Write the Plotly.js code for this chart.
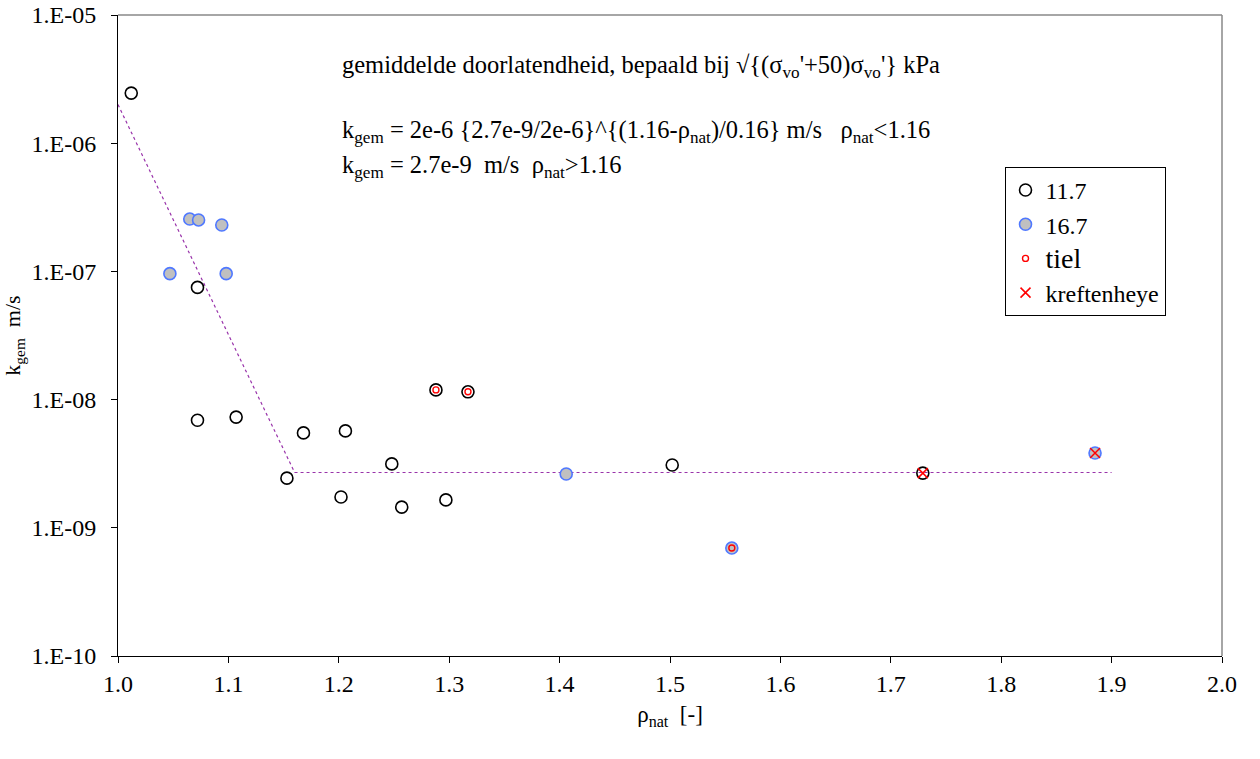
<!DOCTYPE html>
<html>
<head>
<meta charset="utf-8">
<script src="https://cdn.plot.ly/plotly-3.0.1.min.js"></script>
<style>body{margin:0;background:#fff}#chart{width:1260px;height:759px}</style>
</head>
<body>
<div id="chart"></div>
<script>
// series 11.7
const x117 = [1.012, 1.072, 1.072, 1.107, 1.153, 1.168, 1.206, 1.202, 1.248, 1.257, 1.297, 1.288, 1.317, 1.502, 1.729];
const y117 = [2.46e-6, 7.5e-8, 6.9e-9, 7.3e-9, 2.44e-9, 5.5e-9, 5.7e-9, 1.74e-9, 3.15e-9, 1.45e-9, 1.65e-9, 1.19e-8, 1.15e-8, 3.09e-9, 2.67e-9];
// series 16.7
const x167 = [1.047, 1.065, 1.073, 1.094, 1.098, 1.406, 1.556, 1.885];
const y167 = [9.6e-8, 2.56e-7, 2.52e-7, 2.30e-7, 9.6e-8, 2.63e-9, 6.95e-10, 3.83e-9];
// tiel
const xTiel = [1.288, 1.317, 1.556];
const yTiel = [1.19e-8, 1.15e-8, 6.95e-10];
// kreftenheye
const xKref = [1.729, 1.885];
const yKref = [2.67e-9, 3.83e-9];
// fit line
const xFit = [1.0, 1.16, 1.9];
const yFit = [2e-6, 2.7e-9, 2.7e-9];
// axis ticks
const yTickVals = [1e-10, 1e-9, 1e-8, 1e-7, 1e-6, 1e-5];
const yTickText = ['1.E-10', '1.E-09', '1.E-08', '1.E-07', '1.E-06', '1.E-05'];

const FONT = 'Liberation Serif';

const traces = [
  {x: xFit, y: yFit, mode: 'lines', line: {color: '#9933aa', width: 1.2, dash: '3px,3px'}, showlegend: false, hoverinfo: 'skip'},
  {x: x117, y: y117, mode: 'markers', name: '11.7',
   marker: {symbol: 'circle-open', size: 12, color: '#000', line: {color: '#000', width: 1.6}}},
  {x: x167, y: y167, mode: 'markers', name: '16.7',
   marker: {symbol: 'circle', size: 12, color: '#c0c0c0', line: {color: '#4f78ff', width: 1.6}}},
  {x: xTiel, y: yTiel, mode: 'markers', name: '<span style="font-size:28px">tiel</span>',
   marker: {symbol: 'circle-open', size: 6, color: '#ff0000', line: {color: '#ff0000', width: 1.4}}},
  {x: xKref, y: yKref, mode: 'markers', name: 'kreftenheye',
   marker: {symbol: 'x-thin-open', size: 10, color: '#ff0000', line: {color: '#ff0000', width: 1.5}}}
];

const layout = {
  width: 1260, height: 759,
  margin: {l: 118, r: 38, t: 15, b: 103},
  paper_bgcolor: '#fff', plot_bgcolor: '#fff',
  font: {family: FONT, size: 24, color: '#000'},
  showlegend: true,
  legend: {x: 0.803, y: 0.763, xanchor: 'left', yanchor: 'top',
           bordercolor: '#000', borderwidth: 1, bgcolor: '#fff',
           font: {family: FONT, size: 24, color: '#000'}, tracegroupgap: 0, itemwidth: 30},
  xaxis: {range: [1, 2], dtick: 0.1, tick0: 1, tickformat: '.1f',
          showgrid: false, zeroline: false, showline: true, linecolor: '#000', linewidth: 1,
          ticks: 'outside', ticklen: 6, tickcolor: '#000',
          tickfont: {family: FONT, size: 24},
          title: {text: 'ρ<sub>nat</sub>  [-]', font: {family: FONT, size: 23}, standoff: 10}},
  yaxis: {type: 'log', range: [-10, -5], tickvals: yTickVals, ticktext: yTickText,
          showgrid: false, zeroline: false, showline: true, linecolor: '#000', linewidth: 1,
          ticks: 'outside', ticklen: 6, tickcolor: '#000', ticklabelstandoff: 10,
          tickfont: {family: FONT, size: 24},
          title: {text: 'k<sub>gem</sub>  m/s', font: {family: FONT, size: 22}, standoff: 10}},
  shapes: [
    {type: 'line', xref: 'paper', yref: 'paper', x0: 0, x1: 1, y0: 1, y1: 1, line: {color: '#888', width: 1.5}},
    {type: 'line', xref: 'paper', yref: 'paper', x0: 1, x1: 1, y0: 0, y1: 1, line: {color: '#888', width: 1.5}}
  ],
  annotations: [
    {xref: 'paper', yref: 'paper', x: 0.201, y: 0.920, xanchor: 'left', yanchor: 'middle', showarrow: false,
     text: "gemiddelde doorlatendheid, bepaald bij √{(σ<sub>vo</sub>'+50)σ<sub>vo</sub>'} kPa", font: {family: FONT, size: 24.5}},
    {xref: 'paper', yref: 'paper', x: 0.201, y: 0.8175, xanchor: 'left', yanchor: 'middle', showarrow: false,
     text: 'k<sub>gem</sub> = 2e-6 {2.7e-9/2e-6}^{(1.16-ρ<sub>nat</sub>)/0.16} m/s   ρ<sub>nat</sub><1.16', font: {family: FONT, size: 24.5}},
    {xref: 'paper', yref: 'paper', x: 0.201, y: 0.764, xanchor: 'left', yanchor: 'middle', showarrow: false,
     text: 'k<sub>gem</sub> = 2.7e-9  m/s  ρ<sub>nat</sub>>1.16', font: {family: FONT, size: 24.5}}
  ]
};

Plotly.newPlot('chart', traces, layout, {displayModeBar: false, staticPlot: true});
</script>
</body>
</html>
